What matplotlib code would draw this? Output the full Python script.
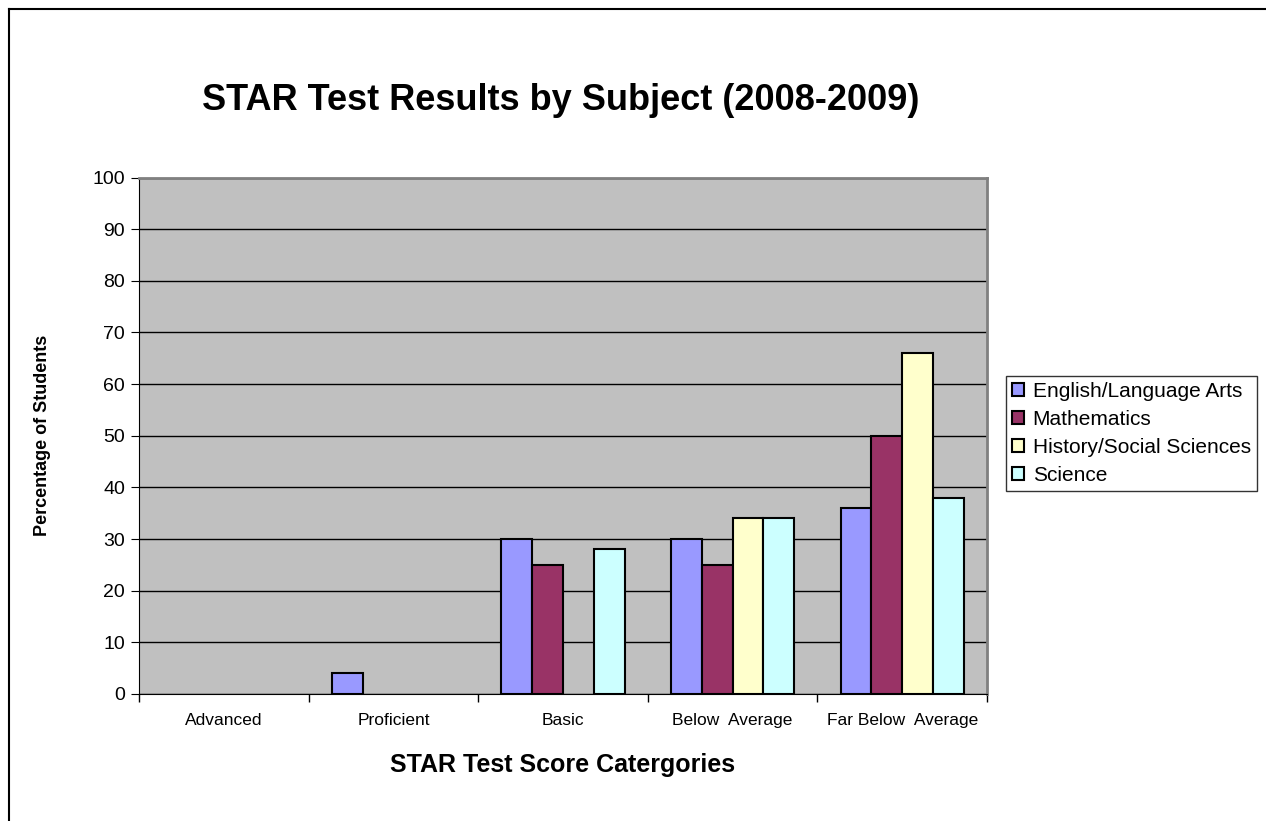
import matplotlib.pyplot as plt
import matplotlib.lines as mlines
import numpy as np

plt.rcParams['font.family'] = ['Liberation Sans', 'DejaVu Sans']

categories = ['Advanced', 'Proficient', 'Basic', 'Below  Average', 'Far Below  Average']
subjects = ['English/Language Arts', 'Mathematics', 'History/Social Sciences', 'Science']
english = [0, 4, 30, 30, 36]
math = [0, 0, 25, 25, 50]
history = [0, 0, 0, 34, 66]
science = [0, 0, 28, 34, 38]
colors = ['#9999FF', '#993366', '#FFFFCC', '#CCFFFF']

fig = plt.figure(figsize=(12.66, 8.21), dpi=100)
ax = fig.add_axes([0.1098, 0.1547, 0.6698, 0.6291])
ax.set_facecolor('#C0C0C0')

x = np.arange(len(categories))
w = 1 / 5.5
for i, (vals, c, name) in enumerate(zip([english, math, history, science], colors, subjects)):
    vals = np.array(vals, dtype=float)
    # zero-height bars are left out so no flat outline shows on the axis
    vals[vals == 0] = np.nan
    ax.bar(x + (i - 1.5) * w, vals, w, color=c, edgecolor='black', linewidth=1.5,
           label=name, zorder=3)

ax.set_xlim(-0.5, len(categories) - 0.5)
ax.set_ylim(0, 100)
ax.set_yticks(range(0, 101, 10))
ax.yaxis.grid(True, color='black', linewidth=1, zorder=0)
ax.set_axisbelow(True)

ax.set_xticks(x)
ax.set_xticklabels(categories, fontsize=12.5)
ax.set_xticks(np.arange(-0.5, len(categories)), minor=True)
ax.tick_params(axis='x', which='major', length=0, pad=14)
ax.tick_params(axis='x', which='minor', length=6, direction='out', width=1)
ax.tick_params(axis='y', length=6, direction='out', labelsize=14, pad=4)

for side in ['top', 'right']:
    ax.spines[side].set_color('#808080')
    ax.spines[side].set_linewidth(2)
ax.spines['left'].set_color('black')
ax.spines['bottom'].set_color('black')

ax.set_ylabel('Percentage of Students', fontsize=13, fontweight='bold', labelpad=30)
ax.set_xlabel('STAR Test Score Catergories', fontsize=18, fontweight='bold', labelpad=18)

fig.text(0.443, 0.878, 'STAR Test Results by Subject (2008-2009)', fontsize=26,
         fontweight='bold', ha='center', va='center')

leg = ax.legend(loc='upper left', bbox_to_anchor=(1.022, 0.616), fontsize=15,
                frameon=True, fancybox=False, edgecolor='black', handlelength=0.6,
                handleheight=0.6, handletextpad=0.4, labelspacing=0.43, borderpad=0.3,
                borderaxespad=0)
leg.get_frame().set_linewidth(1)

# outer chart border (left and top only)
fig.add_artist(mlines.Line2D([9 / 1266, 9 / 1266], [0, 1 - 9 / 821], color='black',
                             linewidth=1.5, transform=fig.transFigure))
fig.add_artist(mlines.Line2D([9 / 1266, 1], [1 - 9 / 821, 1 - 9 / 821], color='black',
                             linewidth=1.5, transform=fig.transFigure))

fig.savefig('out.png', dpi=100)
